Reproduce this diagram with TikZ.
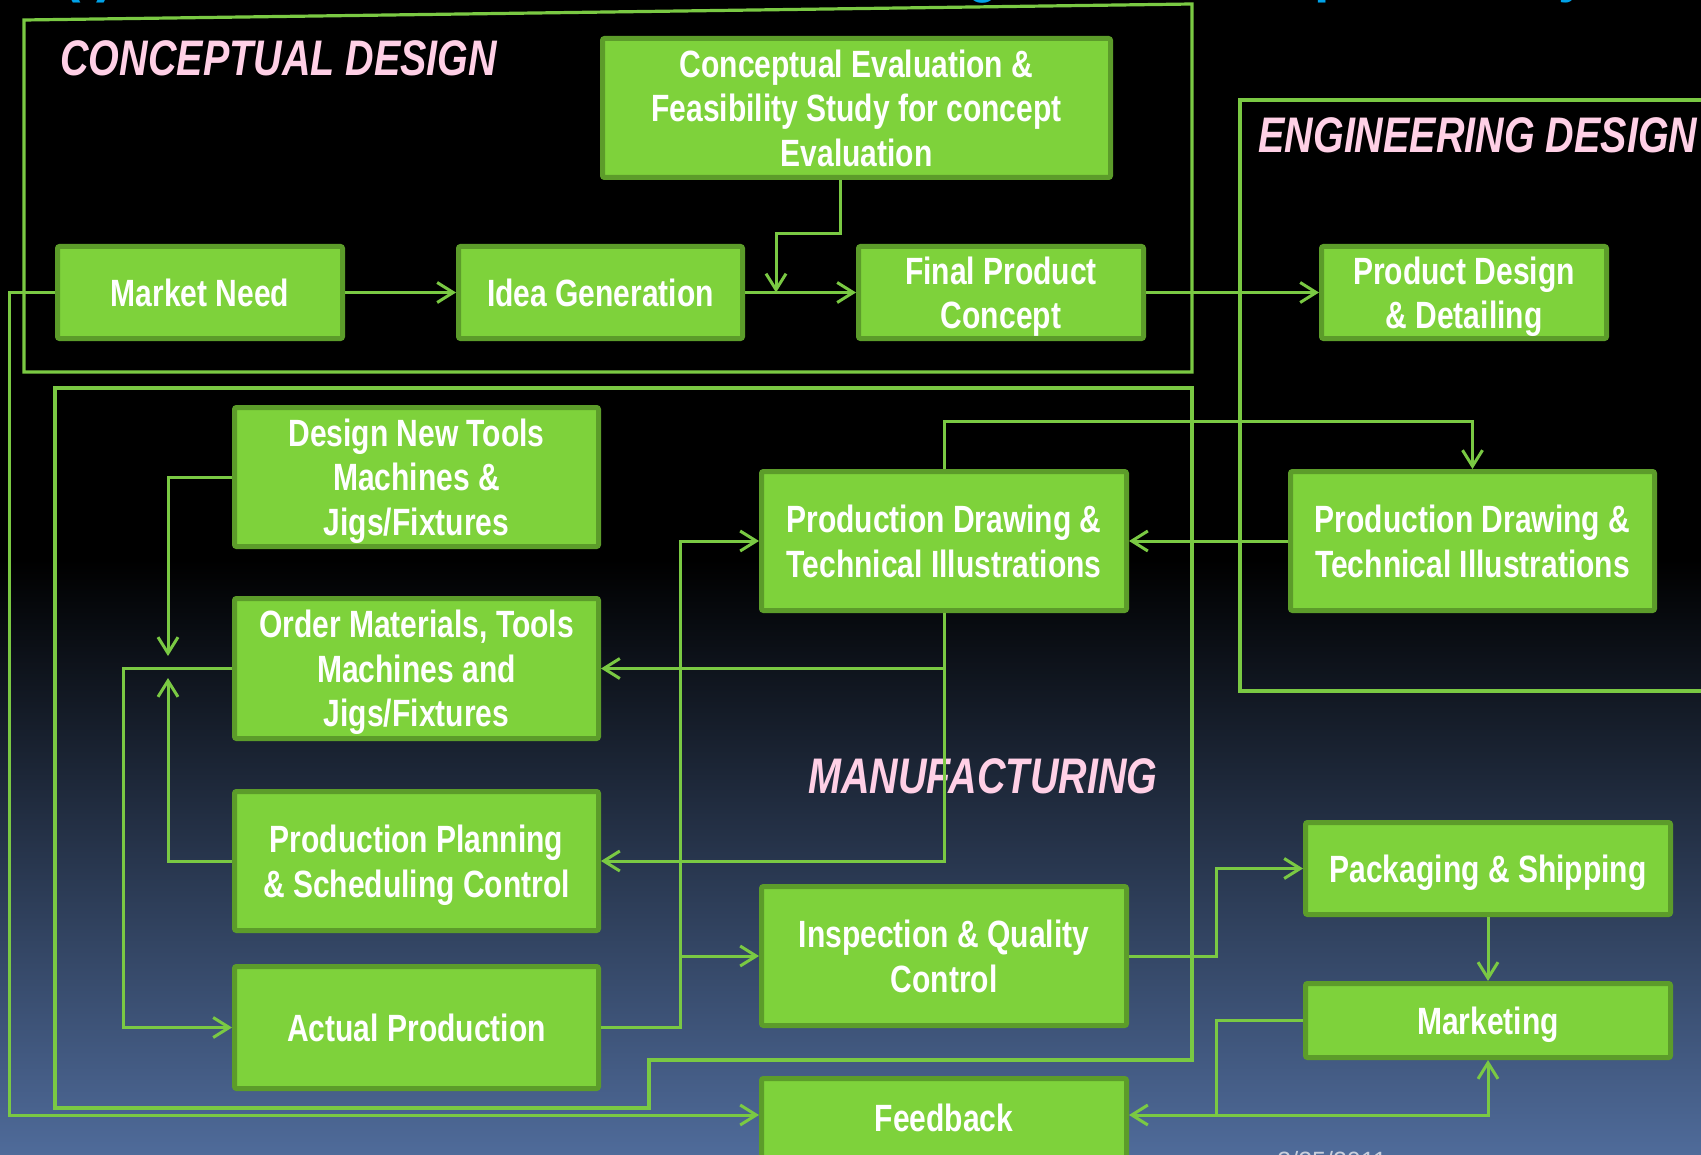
\documentclass[tikz,border=0pt]{standalone}
\usepackage{fontspec}
\setmainfont{Liberation Sans}[FakeStretch=0.79]
\newfontfamily\plainsans{Liberation Sans}
\usetikzlibrary{arrows.meta}
\definecolor{boxfill}{HTML}{7ED23B}
\definecolor{boxedge}{HTML}{5C9C2A}
\definecolor{wire}{HTML}{7AC943}
\definecolor{phasepink}{HTML}{FFD0E6}
\definecolor{headblue}{HTML}{00A2E8}
\definecolor{deepblue}{HTML}{4F6B9A}
\definecolor{datetext}{HTML}{C9CFDC}

\begin{document}
\begin{tikzpicture}[x=0.5pt,y=-0.5pt,
  box/.style 2 args={draw=boxedge, fill=boxfill, line width=2.5pt, rounded corners=1pt,
    minimum width=#1*0.5pt-2.5pt, minimum height=#2*0.5pt-2.5pt, inner sep=0pt,
    text depth=0pt, align=center, text=white,
    font=\fontsize{19}{22.25}\selectfont\bfseries},
  wire/.style={draw=wire, line width=1.5pt},
  flow/.style={wire, -{Straight Barb[length=8pt,width=10pt]}},
  region/.style={draw=wire, line width=1.6pt},
  phase/.style={text=phasepink, font=\fontsize{25}{30}\selectfont\bfseries\itshape,
    inner sep=0pt, anchor=base west},
  heading/.style={text=headblue, font=\fontsize{35}{40}\selectfont\bfseries,
    inner sep=0pt, anchor=base west},
]
\useasboundingbox (0,0) rectangle (1701,1155);

% backdrop: black, fading into slate blue towards the bottom
\fill[black] (0,0) rectangle (1701,561);
\shade[top color=black, bottom color=deepblue] (0,560) rectangle (1701,1155);

% heading running above the top edge
\node[heading] (hdA) at (62,-11) {(i)};
\node[heading] (hdB) at (966,-11) {g};
\node[heading] (hdC) at (1314,-11) {p};
\node[heading] (hdD) at (1558,-11) {y};

% phase outlines
\draw[region] (24,372) -- (24,20) -- (1192,4) -- (1192,372) -- cycle;
\draw[region] (1760,100) -- (1240,100) -- (1240,691) -- (1760,691);
\draw[region] (55,388) -- (1192,388) -- (1192,1060) -- (649,1060) -- (649,1108) -- (55,1108) -- cycle;

% phase titles
\node[phase] (lblconcept) at (60,76) {CONCEPTUAL DESIGN};
\node[phase] (lbleng) at (1258,153) {ENGINEERING DESIGN};
\node[phase] (lblmfg) at (808,793) {MANUFACTURING};

% process steps
\node[box={513}{144}] (ce) at (856.5,108) {Conceptual Evaluation \&\\Feasibility Study for concept\\Evaluation};
\node[box={290}{97}] (mn) at (200,292.5) {Market Need};
\node[box={289}{97}] (ig) at (600.5,292.5) {Idea Generation};
\node[box={290}{97}] (fp) at (1001,292.5) {Final Product\\Concept};
\node[box={290}{97}] (pd) at (1464,292.5) {Product Design\\\& Detailing};

\node[box={369}{144}] (dt) at (416.5,477) {Design New Tools\\Machines \&\\Jigs/Fixtures};
\node[box={369}{145}] (om) at (416.5,668.5) {Order Materials, Tools\\Machines and\\Jigs/Fixtures};
\node[box={369}{144}] (pp) at (416.5,861) {Production Planning\\\& Scheduling Control};
\node[box={369}{127}] (ap) at (416.5,1027.5) {Actual Production};

\node[box={370}{144}] (pdm) at (944,541) {Production Drawing \&\\Technical Illustrations};
\node[box={369}{144}] (pdr) at (1472.5,541) {Production Drawing \&\\Technical Illustrations};
\node[box={370}{144}] (iq) at (944,956) {Inspection \& Quality\\Control};
\node[box={370}{97}] (ps) at (1488,868.5) {Packaging \& Shipping};
\node[box={370}{79}] (mk) at (1488,1020.5) {Marketing};
\node[box={370}{84}] (fb) at (944,1118) {Feedback};

% junctions
\coordinate (merge) at (776,292.5);
\coordinate (apj) at (680,956);
\coordinate (fbj) at (1216,1115);

% conceptual design flow
\draw[flow] (mn) -- (ig);
\draw[flow] (ig) -- (fp);
\draw[flow] (fp) -- (pd);
\draw[flow] ([xshift=-8.25pt]ce.south) |- (776,234) -- (merge);

% engineering to manufacturing
\draw[flow] (pdm.north) -- ++(0,-48) -| (pdr.north);
\draw[flow] (pdr.west) -- (pdm.east);
\draw[flow] (pdm.south) |- (pp.east);
\draw[flow] (pdm.south |- om.east) -- (om.east);

% manufacturing loop
\draw[flow] (dt.west) -| (168,656);
\draw[flow] (pp.west) -| (168,678);
\draw[flow] (om.west) -- (123,668.5) |- (ap.west);
\draw[flow] (ap.east) -| (apj) |- (pdm.west);
\draw[flow] (apj) -- (iq.west);

% delivery and feedback
\draw[flow] (iq.east) -- (1216,956) |- (ps.west);
\draw[flow] (ps) -- (mk);
\draw[flow] (mk.west) -| (fbj) -- ([yshift=1.5pt]fb.east);
\draw[flow] (fbj) -| (mk.south);
\draw[flow] (mn.west) -- (9,292.5) |- ([yshift=1.5pt]fb.west);

% date line below the bottom edge
\node[font=\plainsans\fontsize{12.5}{15}\selectfont, text=datetext, anchor=north west, inner sep=0pt] (date) at (1277,1151) {3/25/2011};
\end{tikzpicture}
\end{document}
